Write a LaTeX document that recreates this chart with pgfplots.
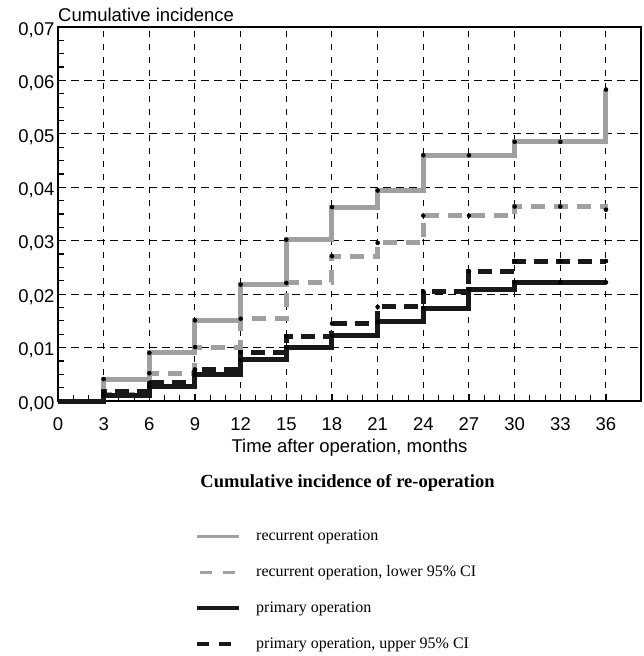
\documentclass[border=0pt]{standalone}
\usepackage{pgfplots}
\pgfplotsset{compat=1.18}
\usepackage{fontspec}
\setmainfont{Liberation Sans}
\newfontfamily\serif{Liberation Serif}
\definecolor{lgray}{RGB}{160,160,160}
\definecolor{dblack}{RGB}{25,25,25}
\begin{document}
\begin{tikzpicture}
\begin{axis}[
  scale only axis, width=583pt, height=374pt,
  xmin=0, xmax=38.3, ymin=0, ymax=0.07,
  xtick={0,3,...,36}, ytick={0,0.01,...,0.07},
  minor x tick num=2, minor y tick num=3,
  tick pos=left, tick align=inside,
  major tick length=7pt, minor tick length=6pt,
  every tick/.style={black, line width=1.2pt},
  grid=major,
  x grid style={black, line width=1pt, dash pattern=on 6pt off 7pt},
  y grid style={black, line width=1pt, dash pattern=on 8pt off 5pt},
  axis line style={black, line width=2.5pt},
  ticklabel style={font=\fontsize{18.5}{22}\selectfont},
  /pgf/number format/assume math mode=true,
  yticklabel style={yshift=-3pt, /pgf/number format/.cd, fixed, fixed zerofill, precision=2, use comma},
  scaled y ticks=false,
  xticklabel style={yshift=-13pt},
  xlabel={Time after operation, months},
  xlabel style={font=\fontsize{18.5}{22}\selectfont, at={(axis description cs:0.5,0)}, anchor=base, yshift=-51pt},
  clip=false,
  legend style={at={(axis description cs:0.235,-0.3396)}, anchor=north west, draw=none,
    font=\serif\fontsize{16}{19}\selectfont, row sep=19.5pt, inner sep=0pt},
  legend cell align=left,
  legend image code/.code={\draw[#1] (0pt,0pt) -- (42pt,0pt);},
  mark options={solid, fill=black, draw=black, line width=0.5pt},
]
\addplot[lgray, line width=5pt, const plot, mark=*, mark size=2pt, mark indices={2,...,13},
  legend image post style={line width=3pt}] coordinates {
(0,0)(3,0.0041)(6,0.0090)(9,0.0151)(12,0.0218)(15,0.0302)(18,0.0363)(21,0.0394)(24,0.0460)(27,0.0460)(30,0.0485)(33,0.0485)(36,0.0583)};
\addlegendentry{\hspace{13pt}recurrent operation}
\addplot[lgray, line width=5pt, dash pattern=on 14pt off 9pt, const plot, mark=*, mark size=2pt, mark indices={2,...,13},
  legend image post style={line width=3.2pt, dash pattern=on 12pt off 11pt, dash phase=-3pt}] coordinates {
(0,0)(3,0.0012)(6,0.0052)(9,0.0101)(12,0.0154)(15,0.0221)(18,0.0271)(21,0.0296)(24,0.0347)(27,0.0347)(30,0.0364)(33,0.0364)(36,0.0358)};
\addlegendentry{\hspace{13pt}recurrent operation, lower 95\% CI}
\addplot[dblack, line width=5pt, const plot, mark=*, mark size=2pt, mark indices={2,...,13},
  legend image post style={line width=4pt}] coordinates {
(0,0)(3,0.0011)(6,0.0027)(9,0.0049)(12,0.0077)(15,0.0101)(18,0.0122)(21,0.0148)(24,0.0174)(27,0.0209)(30,0.0222)(33,0.0222)(36,0.0222)};
\addlegendentry{\hspace{13pt}primary operation}
\addplot[dblack, line width=5pt, dash pattern=on 14pt off 8pt, const plot, mark=*, mark size=2pt, mark indices={2,...,13},
  legend image post style={line width=4pt, dash pattern=on 12pt off 10pt}] coordinates {
(0,0)(3,0.0017)(6,0.0034)(9,0.0059)(12,0.0091)(15,0.0121)(18,0.0145)(21,0.0176)(24,0.0205)(27,0.0243)(30,0.0262)(33,0.0262)(36,0.0262)};
\addlegendentry{\hspace{13pt}primary operation, upper 95\% CI}
\node[anchor=base west, font=\fontsize{18.5}{22}\selectfont, inner sep=0pt] at (axis description cs:0,1) [yshift=5.5pt] {Cumulative incidence};
\node[anchor=base, font=\serif\bfseries\fontsize{18.5}{22}\selectfont, inner sep=0pt] at (axis description cs:0.4966,0) [yshift=-86pt] {Cumulative incidence of re-operation};
\coordinate (O) at (axis description cs:0,0);
\end{axis}
\path (O) ++(-58pt,-255pt) rectangle ++(644pt,656pt);
\end{tikzpicture}
\end{document}
